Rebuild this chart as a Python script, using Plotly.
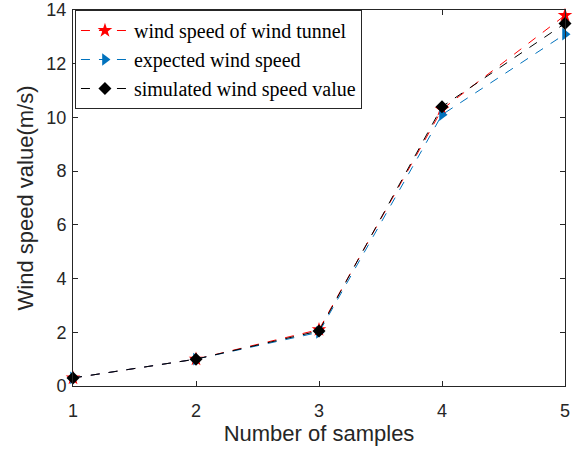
import plotly.graph_objects as go

samples = [1, 2, 3, 4, 5]
tunnel = [0.3, 1.0, 2.1, 10.3, 13.8]
expected = [0.3, 1.0, 2.0, 10.1, 13.1]
simulated = [0.3, 1.0, 2.05, 10.4, 13.5]

fig = go.Figure()
fig.add_trace(go.Scatter(x=samples, y=tunnel, mode="lines+markers", name="wind speed of wind tunnel",
                         cliponaxis=False,
                         line=dict(color="#FF0000", dash="dash", width=1),
                         marker=dict(symbol="star", size=11, color="#FF0000")))
fig.add_trace(go.Scatter(x=samples, y=expected, mode="lines+markers", name="expected wind speed",
                         cliponaxis=False,
                         line=dict(color="#0072BD", dash="dash", width=1),
                         marker=dict(symbol="triangle-right", size=11, color="#0072BD")))
fig.add_trace(go.Scatter(x=samples, y=simulated, mode="lines+markers", name="simulated wind speed value",
                         cliponaxis=False,
                         line=dict(color="#000000", dash="dash", width=1),
                         marker=dict(symbol="diamond", size=10, color="#000000")))

axis_common = dict(showline=True, linecolor="#262626", linewidth=1, mirror="ticks",
                   ticks="inside", ticklen=5, tickcolor="#262626", showgrid=False, zeroline=False,
                   automargin=False,
                   tickfont=dict(family="Liberation Sans, Arial", size=18, color="#262626"))
fig.update_xaxes(range=[1, 5], tickvals=[1, 2, 3, 4, 5], ticklabelstandoff=8,
                 title=dict(text="Number of samples",
                 font=dict(family="Liberation Sans, Arial", size=22, color="#262626"), standoff=6), **axis_common)
fig.update_yaxes(range=[0, 14], tickvals=[0, 2, 4, 6, 8, 10, 12, 14], ticklabelstandoff=2,
                 title=dict(text="Wind speed value(m/s)",
                 font=dict(family="Liberation Sans, Arial", size=22, color="#262626"), standoff=6), **axis_common)

fig.update_layout(
    width=578, height=451,
    margin=dict(l=73, r=13, t=10, b=65),
    plot_bgcolor="white", paper_bgcolor="white",
    legend=dict(x=0.004, y=1.0, xanchor="left", yanchor="top",
                bordercolor="#262626", borderwidth=1, bgcolor="white",
                font=dict(family="Liberation Serif, Times New Roman", size=20, color="#000000"),
                tracegroupgap=0, itemwidth=48),
)
fig.write_html("out.html")
